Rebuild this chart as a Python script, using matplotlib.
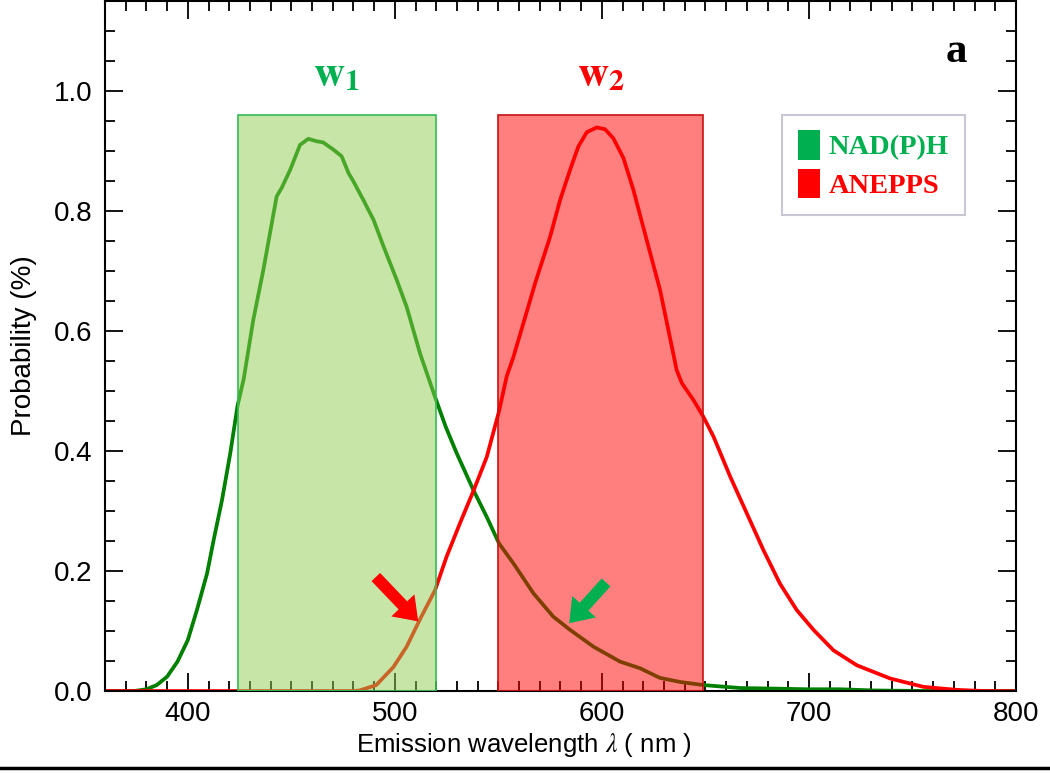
# -*- coding: utf-8 -*-
import matplotlib
matplotlib.use('Agg')
from matplotlib import pyplot as plt
from matplotlib.pyplot import MultipleLocator
from matplotlib.patches import Rectangle, Patch
from matplotlib.lines import Line2D

plt.rcParams['mathtext.fontset'] = 'stix'

# NAD(P)H emission spectrum
nadph_wl = [360, 370, 374, 380, 385, 390, 395, 400, 404.4, 409.3, 412.5, 416.5, 420.5, 424,
            427, 431.6, 436.5, 442.9, 445.3, 449.4, 454.2, 458.2, 462.2, 465.4, 470.3, 474.3,
            477.6, 480, 484.8, 489.7, 494.5, 500.9, 505.7, 512.2, 519.4, 524.6, 529.9, 537.9,
            544.4, 550.3, 557.2, 566.9, 576.5, 584.6, 595.9, 608.8, 618.4, 628, 638, 649,
            667, 685, 699, 715, 731, 760, 800]
nadph_p = [0, 0, 0, 0.003, 0.01, 0.024, 0.049, 0.085, 0.135, 0.196, 0.252, 0.318, 0.396, 0.475,
           0.52, 0.618, 0.702, 0.824, 0.838, 0.868, 0.91, 0.92, 0.916, 0.914, 0.902, 0.891,
           0.863, 0.849, 0.818, 0.785, 0.741, 0.685, 0.64, 0.562, 0.49, 0.44, 0.396, 0.335,
           0.29, 0.246, 0.213, 0.163, 0.124, 0.102, 0.074, 0.049, 0.038, 0.022, 0.015, 0.01,
           0.005, 0.004, 0.003, 0.003, 0.001, 0.0, 0.0]

# ANEPPS emission spectrum
anepps_wl = [360, 470, 480, 483, 491, 499.3, 505.7, 512.2, 519.4, 525, 531.5, 537.9, 544.4,
             550.3, 554, 557.3, 562.1, 567.8, 575, 579.8, 584.6, 588.6, 592.7, 597.5, 601.5,
             605.5, 610.4, 615.2, 621.6, 628.1, 633.7, 636.1, 638.6, 644.2, 649, 653.9, 662,
             670, 678, 686, 694.1, 702.2, 711.8, 723.1, 739.2, 755.3, 771.4, 785, 800]
anepps_p = [0, 0, 0, 0.001, 0.01, 0.04, 0.074, 0.12, 0.168, 0.224, 0.28, 0.333, 0.39,
            0.466, 0.524, 0.557, 0.613, 0.68, 0.757, 0.818, 0.868, 0.907, 0.931, 0.939, 0.936,
            0.921, 0.888, 0.835, 0.752, 0.668, 0.575, 0.535, 0.513, 0.485, 0.457, 0.424, 0.357,
            0.296, 0.235, 0.179, 0.135, 0.102, 0.068, 0.043, 0.021, 0.007, 0.002, 0.0, 0.0]

# detection windows w1, w2 (nm) and their height
w1_band = [424, 520]
w2_band = [550, 649]
band_top = 0.96

green_txt = '#00B050'
red_txt = '#FF0000'

fig = plt.figure(figsize=(10.5, 7.73), dpi=100)
ax = fig.add_axes([0.1, 0.106, 0.8676, 0.893])

ax.plot(nadph_wl, nadph_p, color='#008000', lw=2.7, zorder=2, solid_joinstyle='round')
ax.plot(anepps_wl, anepps_p, color='#FF0000', lw=2.7, zorder=2, solid_joinstyle='round')

# the windows are drawn on top (semi transparent) so curves get tinted
ax.add_patch(Rectangle((w1_band[0], 0), w1_band[1] - w1_band[0], band_top,
                       facecolor=(145/255, 205/255, 81/255, 0.5),
                       edgecolor='#33BB55', lw=1.2, zorder=3))
ax.add_patch(Rectangle((w2_band[0], 0), w2_band[1] - w2_band[0], band_top,
                       facecolor=(1.0, 0.0, 0.0, 0.5),
                       edgecolor='#CC1111', lw=1.2, zorder=3))

ax.text(sum(w1_band) / 2, 1.01, r'$\mathbf{w}_\mathbf{1}$', color=green_txt,
        fontsize=31, ha='center', va='baseline')
ax.text(sum(w2_band) / 2, 1.01, r'$\mathbf{w}_\mathbf{2}$', color=red_txt,
        fontsize=31, ha='center', va='baseline')

# crosstalk arrows
ax.annotate('', xy=(511.3, 0.116), xytext=(490.8, 0.19),
            arrowprops=dict(facecolor=red_txt, edgecolor='none', width=8.5,
                            headwidth=23, headlength=16, shrink=0), zorder=5)
ax.annotate('', xy=(584.2, 0.113), xytext=(602, 0.181),
            arrowprops=dict(facecolor=green_txt, edgecolor='none', width=8.5,
                            headwidth=23, headlength=16, shrink=0), zorder=5)

ax.set_xlim(360, 800)
ax.set_ylim(0, 1.15)
ax.xaxis.set_major_locator(MultipleLocator(100))
ax.xaxis.set_minor_locator(MultipleLocator(10))
ax.yaxis.set_major_locator(MultipleLocator(0.2))
ax.yaxis.set_minor_locator(MultipleLocator(0.05))
ax.yaxis.set_major_formatter(matplotlib.ticker.FormatStrFormatter('%.1f'))
ax.tick_params(which='both', direction='in', top=True, right=True, width=1.3, color='black')
ax.tick_params(which='major', length=13)
ax.tick_params(which='minor', length=7)
ax.tick_params(axis='y', labelsize=20, pad=9)
ax.tick_params(axis='x', labelsize=20, pad=7)
for lab in ax.get_yticklabels():
    lab.set_family(['Liberation Sans', 'DejaVu Sans'])
for lab in ax.get_xticklabels():
    lab.set_family(['Liberation Sans', 'DejaVu Sans'])
for sp in ax.spines.values():
    sp.set_linewidth(1.5)

ax.set_ylabel('Probability (%)', fontsize=20, family=['Liberation Sans', 'DejaVu Sans'], labelpad=12)
ax.set_xlabel(r'Emission wavelength $\lambda$ ( nm )', fontsize=18.5,
              family=['Liberation Sans', 'DejaVu Sans'], labelpad=4)
ax.xaxis.set_label_coords(0.46, -0.058)

handles = [Patch(facecolor=green_txt, edgecolor='none', label='NAD(P)H'),
           Patch(facecolor=red_txt, edgecolor='none', label='ANEPPS')]
leg = ax.legend(handles=handles, loc='upper left', bbox_to_anchor=(0.743, 0.835),
                borderaxespad=0, prop=dict(family='Liberation Serif', weight='bold', size=20.5),
                handlelength=0.78, handleheight=1.2, handletextpad=0.32, labelspacing=0.3,
                borderpad=0.55, fancybox=False, framealpha=1, edgecolor='#C8C8D4',
                labelcolor=[green_txt, red_txt])
leg.get_frame().set_linewidth(1.5)
leg.set_zorder(6)

ax.text(0.935, 0.926, 'a', transform=ax.transAxes, fontsize=31, family='Liberation Serif',
        weight='bold', ha='center', va='center')

# black rule at the bottom of the figure
fig.add_artist(Line2D([0, 1], [0.0065, 0.0065], color='black', lw=2.5))

fig.savefig('out.png', dpi=100)
